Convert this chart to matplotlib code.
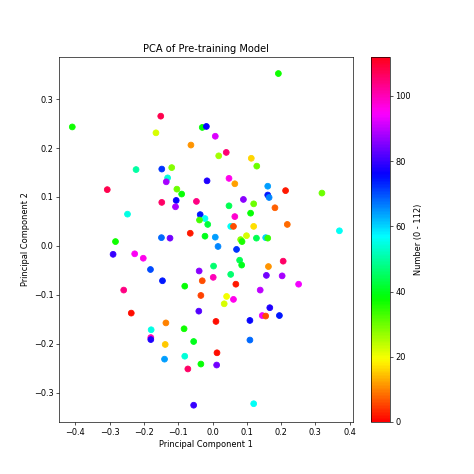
import matplotlib
matplotlib.use("Agg")
import matplotlib.pyplot as plt

pc1 = [-0.409, -0.151, -0.165, -0.063, -0.030, -0.018, -0.223, -0.148, -0.119, -0.131,
       -0.135, -0.016, -0.307, -0.104, -0.090, -0.106, -0.148, -0.108, -0.047, -0.248,
       -0.036, -0.022, -0.038, -0.014, -0.065, -0.022, -0.149, -0.124, -0.283, -0.290,
       -0.227, -0.202, -0.181, -0.146, -0.039, -0.030, -0.081, -0.259, -0.034, -0.040,
       -0.237, -0.136, -0.083, -0.179, -0.180, -0.180, -0.055, -0.138, -0.140, -0.081,
       -0.034, -0.072, -0.055, 0.192, 0.008, 0.040, 0.018, 0.113, 0.129, 0.048,
       0.065, 0.161, 0.213, 0.319, 0.161, 0.165, 0.090, 0.120, 0.048, 0.182,
       0.111, 0.065, 0.053, 0.061, 0.120, 0.218, 0.370, 0.008, 0.016, 0.070,
       0.082, 0.086, 0.099, 0.128, 0.155, 0.161, 0.003, 0.079, 0.085, 0.163,
       0.206, 0.002, 0.053, 0.157, 0.203, 0.068, 0.251, 0.139, 0.041, 0.061,
       0.034, 0.167, 0.010, 0.109, 0.145, 0.155, 0.195, 0.109, 0.013, 0.012,
       0.120]
pc2 = [0.243, 0.265, 0.231, 0.206, 0.242, 0.244, 0.156, 0.157, 0.160, 0.139,
       0.131, 0.133, 0.115, 0.116, 0.106, 0.093, 0.089, 0.080, 0.091, 0.065,
       0.064, 0.056, 0.053, 0.044, 0.026, 0.020, 0.017, 0.016, 0.009, -0.017,
       -0.016, -0.025, -0.048, -0.071, -0.051, -0.071, -0.082, -0.090, -0.101, -0.133,
       -0.137, -0.157, -0.169, -0.171, -0.187, -0.191, -0.195, -0.201, -0.231, -0.225,
       -0.241, -0.251, -0.325, 0.352, 0.224, 0.191, 0.184, 0.179, 0.163, 0.138,
       0.127, 0.122, 0.113, 0.108, 0.104, 0.099, 0.095, 0.086, 0.082, 0.078,
       0.067, 0.060, 0.040, 0.040, 0.040, 0.044, 0.031, 0.018, -0.001, -0.007,
       0.013, 0.009, 0.021, 0.016, 0.017, 0.016, -0.041, -0.029, -0.039, -0.042,
       -0.031, -0.064, -0.058, -0.060, -0.061, -0.078, -0.078, -0.090, -0.103, -0.109,
       -0.118, -0.126, -0.154, -0.152, -0.142, -0.143, -0.142, -0.192, -0.218, -0.243,
       -0.322]
number = [37, 108, 22, 11, 38, 76, 50, 72, 28, 54,
          88, 78, 108, 30, 38, 76, 106, 88, 104, 55,
          74, 56, 33, 42, 2, 40, 68, 84, 37, 80,
          95, 96, 70, 74, 86, 6, 38, 104, 5, 82,
          1, 10, 37, 55, 100, 78, 40, 15, 64, 54,
          38, 106, 80, 37, 92, 105, 26, 16, 30, 96,
          12, 64, 2, 30, 74, 66, 86, 30, 44, 7,
          38, 98, 56, 6, 17, 8, 56, 64, 66, 72,
          28, 36, 22, 44, 60, 34, 46, 44, 40, 11,
          106, 100, 46, 84, 88, 2, 94, 90, 20, 96,
          22, 78, 1, 76, 94, 6, 74, 68, 1, 84,
          56]

fig = plt.figure(figsize=(8, 8), dpi=59.25)
ax = fig.add_subplot(111)
sc = ax.scatter(pc1, pc2, c=number, cmap='hsv', vmin=0, vmax=112, s=50)
cb = fig.colorbar(sc, ax=ax)
cb.set_label('Number (0 - 112)')
ax.set_title('PCA of Pre-training Model')
ax.set_xlabel('Principal Component 1')
ax.set_ylabel('Principal Component 2')
ax.set_xlim(-0.447, 0.410)
ax.set_ylim(-0.359, 0.386)
fig.savefig('out.png', dpi=59.25)
